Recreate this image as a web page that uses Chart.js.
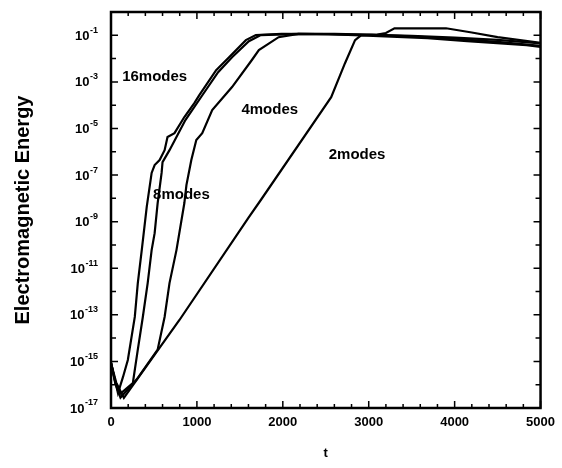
<!DOCTYPE html>
<html>
<head>
<meta charset="utf-8">
<script src="https://cdn.jsdelivr.net/npm/chart.js@4/dist/chart.umd.min.js"></script>
<style>
  body { margin: 0; background: #fff; }
  canvas { display: block; }
</style>
</head>
<body>
<canvas id="myChart" width="562" height="468"></canvas>
<script>
// time values and energies
const t16 = [0, 40, 81, 139, 196, 277, 312, 358, 416, 473, 508, 566, 624, 658, 739, 854, 970, 1028, 1224, 1374, 1570, 1686, 1986, 2529, 2910, 3683, 4145, 4838, 5000];
const e16 = [8.5e-16, 2.0e-16, 4.4e-17, 2.1e-16, 1.15e-15, 8.1e-14, 2.3e-12, 6.0e-11, 4.3e-9, 1.23e-7, 2.7e-7, 4.4e-7, 1.17e-6, 4.3e-6, 6.3e-6, 3.1e-5, 1.23e-4, 2.7e-4, 3.2e-3, 1.15e-2, 6.2e-2, 0.102, 0.115, 0.112, 0.1, 0.076, 0.056, 0.038, 0.032];

const t8 = [0, 50, 104, 254, 312, 370, 427, 473, 508, 543, 589, 600, 681, 866, 1051, 1247, 1409, 1605, 1744, 2182, 2600, 3000, 3500, 4000, 4500, 5000];
const e8 = [8.9e-16, 1.26e-16, 4.0e-17, 1.17e-16, 3.2e-15, 7.9e-14, 2.3e-12, 6.0e-11, 3.2e-10, 6.3e-9, 1.23e-7, 3.6e-7, 1.17e-6, 2.3e-5, 2.3e-4, 2.6e-3, 1.15e-2, 5.6e-2, 0.102, 0.115, 0.11, 0.104, 0.089, 0.071, 0.052, 0.035];

const t4 = [0, 50, 110, 300, 543, 624, 681, 762, 854, 878, 935, 993, 1062, 1178, 1409, 1640, 1721, 1951, 2182, 2600, 3000, 3500, 4000, 4500, 5000];
const e4 = [8.5e-16, 1.12e-16, 2.8e-17, 1.7e-16, 3.2e-15, 8.1e-14, 2.3e-12, 6.0e-11, 6.3e-9, 3.7e-8, 4.4e-7, 3.2e-6, 6.3e-6, 6.2e-5, 6.0e-4, 8.7e-3, 2.3e-2, 8.3e-2, 0.115, 0.115, 0.108, 0.095, 0.079, 0.063, 0.045];

const t2 = [0, 60, 150, 797, 1605, 1744, 2563, 2725, 2841, 2910, 3100, 3200, 3300, 3900, 4200, 4500, 5000];
const e2 = [8.5e-16, 1.26e-16, 2.7e-17, 6.0e-14, 1.58e-9, 8.5e-9, 2.2e-4, 6.5e-3, 6.2e-2, 0.1, 0.107, 0.126, 0.2, 0.2, 0.132, 0.083, 0.047];

const xTickLabels = ["0", "1000", "2000", "3000", "4000", "5000"];
const yTickExps = [-17, -15, -13, -11, -9, -7, -5, -3, -1];

const curveNames = ["16modes", "8modes", "4modes", "2modes"];
const curveLabelT = [508, 820, 1848, 2864];
const curveLabelE = [1.6e-3, 1.4e-8, 6.2e-5, 7.2e-7];

const ctx = document.getElementById("myChart").getContext("2d");
const boldFont = "Arial, 'Liberation Sans', sans-serif";

function pts(ts, es) {
  return ts.map((t, i) => ({ x: t, y: es[i] }));
}

function curve(ts, es) {
  return {
    data: pts(ts, es),
    borderColor: "#000",
    borderWidth: 2.2,
    pointRadius: 0,
    tension: 0,
    fill: false,
  };
}

// frame, inward ticks, y labels with superscripts, curve names
const decorations = {
  id: "decorations",
  afterDraw(chart) {
    const c = chart.ctx;
    const a = chart.chartArea;
    const x = chart.scales.x;
    const y = chart.scales.y;
    c.save();
    c.strokeStyle = "#000";
    c.lineWidth = 2.5;
    c.strokeRect(a.left, a.top, a.right - a.left, a.bottom - a.top);

    c.lineWidth = 1.5;
    c.beginPath();
    for (let v = 0; v <= 5000; v += 200) {
      const px = x.getPixelForValue(v);
      const len = v % 1000 === 0 ? 7 : 4;
      c.moveTo(px, a.bottom);
      c.lineTo(px, a.bottom - len);
      c.moveTo(px, a.top);
      c.lineTo(px, a.top + len);
    }
    for (let e = -17; e <= 0; e++) {
      const py = y.getPixelForValue(Math.pow(10, e));
      const len = e % 2 !== 0 ? 7 : 5;
      c.moveTo(a.left, py);
      c.lineTo(a.left + len, py);
      c.moveTo(a.right, py);
      c.lineTo(a.right - len, py);
    }
    c.stroke();

    c.fillStyle = "#000";
    c.textBaseline = "middle";
    yTickExps.forEach((e) => {
      const py = y.getPixelForValue(Math.pow(10, e));
      c.font = "bold 9px " + boldFont;
      const sup = String(e);
      const sw = c.measureText(sup).width;
      const right = a.left - 13;
      c.textAlign = "left";
      c.fillText(sup, right - sw, py - 5);
      c.font = "bold 13px " + boldFont;
      c.textAlign = "right";
      c.fillText("10", right - sw - 0.5, py + 1);
    });

    c.font = "bold 15px " + boldFont;
    c.textAlign = "center";
    curveNames.forEach((name, i) => {
      c.fillText(name, x.getPixelForValue(curveLabelT[i]), y.getPixelForValue(curveLabelE[i]));
    });
    c.restore();
  },
};

const myChart = new Chart(ctx, {
  type: "line",
  data: {
    datasets: [curve(t16, e16), curve(t8, e8), curve(t4, e4), curve(t2, e2)],
  },
  options: {
    responsive: false,
    animation: false,
    devicePixelRatio: 1,
    layout: { padding: { top: 12, right: 18, left: 0, bottom: 0 } },
    plugins: {
      legend: { display: false },
      tooltip: { enabled: false },
    },
    scales: {
      x: {
        type: "linear",
        min: 0,
        max: 5000,
        grid: { display: false, drawTicks: false },
        border: { display: false },
        afterBuildTicks: (scale) => {
          scale.ticks = xTickLabels.map((s) => ({ value: Number(s) }));
        },
        afterFit: (scale) => {
          scale.height = 60;
        },
        ticks: {
          color: "#000",
          padding: 7,
          maxRotation: 0,
          font: { family: boldFont, size: 13, weight: "bold" },
          callback: (v) => String(v),
        },
        title: {
          display: true,
          text: "t",
          color: "#000",
          padding: { top: 0, bottom: 7 },
          font: { family: boldFont, size: 13, weight: "bold" },
        },
      },
      y: {
        type: "logarithmic",
        min: 1e-17,
        max: 1,
        grid: { display: false, drawTicks: false },
        border: { display: false },
        ticks: { display: false },
        afterFit: (scale) => {
          scale.width = 111;
        },
        title: {
          display: true,
          text: "Electromagnetic Energy",
          color: "#000",
          padding: { top: 11, bottom: 0 },
          font: { family: boldFont, size: 20, weight: "bold" },
        },
      },
    },
  },
  plugins: [decorations],
});
</script>
</body>
</html>
